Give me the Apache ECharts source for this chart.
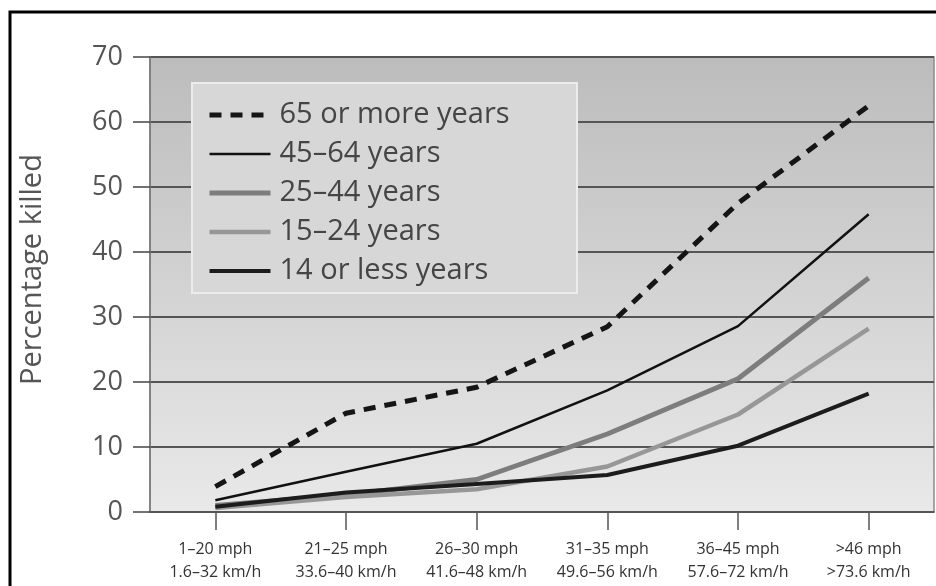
<!DOCTYPE html>
<html>
<head>
<meta charset="utf-8">
<script src="https://cdn.jsdelivr.net/npm/echarts@6/dist/echarts.min.js"></script>
<style>
html,body{margin:0;padding:0;background:#fff;}
#chart{width:936px;height:586px;}
</style>
</head>
<body>
<div id="chart"></div>
<script>
var categories = ['1–20 mph\n1.6–32 km/h', '21–25 mph\n33.6–40 km/h', '26–30 mph\n41.6–48 km/h', '31–35 mph\n49.6–56 km/h', '36–45 mph\n57.6–72 km/h', '>46 mph\n>73.6 km/h'];
var seriesNames = ['65 or more years', '45–64 years', '25–44 years', '15–24 years', '14 or less years'];
var age65plus = [3.9, 15.2, 19.2, 28.5, 47.5, 62.5];
var age45to64 = [1.8, 6.2, 10.5, 18.7, 28.6, 45.8];
var age25to44 = [1.0, 2.6, 5.0, 12.0, 20.5, 36.0];
var age15to24 = [0.6, 2.3, 3.5, 7.0, 15.0, 28.2];
var age14less = [0.8, 3.0, 4.3, 5.7, 10.2, 18.2];
var yTicks = [0, 10, 20, 30, 40, 50, 60, 70];

var chart = echarts.init(document.getElementById('chart'), null, {renderer: 'canvas'});
var FONT = '"Open Sans", "Noto Sans", sans-serif';

var styles = {};
styles[seriesNames[0]] = {color: '#151515', width: 5, type: [12, 9]};
styles[seriesNames[1]] = {color: '#111111', width: 2.5, type: 'solid'};
styles[seriesNames[2]] = {color: '#7d7d7d', width: 5, type: 'solid'};
styles[seriesNames[3]] = {color: '#979797', width: 4.5, type: 'solid'};
styles[seriesNames[4]] = {color: '#1c1c1c', width: 4, type: 'solid'};

function lineSeries(name, data, z) {
  var s = styles[name];
  return {
    name: name, type: 'line', data: data, symbol: 'none', z: z,
    lineStyle: {color: s.color, width: s.width, type: s.type, cap: 'butt', join: 'round'},
    itemStyle: {color: s.color},
    emphasis: {disabled: true}
  };
}

var option = {
  animation: false,
  backgroundColor: '#fff',
  grid: {
    left: 150, right: 2, top: 57, bottom: 74,
    show: true,
    borderColor: '#8a8a8a', borderWidth: 1.5,
    backgroundColor: new echarts.graphic.LinearGradient(0, 0, 0, 1, [
      {offset: 0, color: '#bcbcbc'},
      {offset: 1, color: '#e9e9e9'}
    ])
  },
  graphic: [
    {type: 'rect', z: 100, silent: true,
     shape: {x: 10, y: 12, width: 960, height: 620},
     style: {fill: null, stroke: '#000', lineWidth: 3}},
    {type: 'rect', z: 3, silent: true,
     shape: {x: 192, y: 83, width: 385, height: 210},
     style: {fill: '#d7d7d7', stroke: '#ececec', lineWidth: 2}}
  ],
  legend: {
    data: seriesNames.map(function (n) {
      var s = styles[n];
      return {name: n, lineStyle: {color: s.color, width: s.width, type: s.type}};
    }),
    orient: 'vertical',
    left: 207, top: 99,
    z: 10,
    itemWidth: 61, itemHeight: 14, itemGap: 7,
    padding: 0,
    selectedMode: false,
    itemStyle: {opacity: 0, color: 'transparent', borderWidth: 0},
    textStyle: {fontFamily: FONT, fontSize: 29, color: '#454545', lineHeight: 32, padding: [0, 0, 0, 4]}
  },
  xAxis: {
    type: 'category',
    data: categories,
    boundaryGap: true,
    axisLine: {show: true, lineStyle: {color: '#555', width: 1.5}},
    axisTick: {show: true, alignWithLabel: true, length: 18, lineStyle: {color: '#555', width: 1.5}},
    axisLabel: {interval: 0, margin: 26, fontFamily: FONT, fontSize: 16, color: '#333', lineHeight: 23, align: 'center'},
    splitLine: {show: false}
  },
  yAxis: {
    type: 'value',
    min: 0, max: 70, interval: 10,
    name: 'Percentage killed',
    nameLocation: 'middle',
    nameGap: 103,
    nameRotate: 90,
    nameTextStyle: {fontFamily: FONT, fontSize: 29, color: '#555', padding: [0, 0, 0, 30]},
    axisLine: {show: true, lineStyle: {color: '#777', width: 1.5}},
    axisTick: {show: true, length: 17, lineStyle: {color: '#444', width: 1.5}},
    axisLabel: {margin: 27, fontFamily: FONT, fontSize: 27, color: '#555',
      formatter: function (v) { return yTicks.indexOf(v) >= 0 ? String(v) : ''; }},
    splitLine: {show: true, lineStyle: {color: '#555', width: 2}}
  },
  series: [
    lineSeries(seriesNames[2], age25to44, 2),
    lineSeries(seriesNames[3], age15to24, 2),
    lineSeries(seriesNames[4], age14less, 3),
    lineSeries(seriesNames[1], age45to64, 3),
    lineSeries(seriesNames[0], age65plus, 4)
  ]
};
chart.setOption(option);
</script>
</body>
</html>
